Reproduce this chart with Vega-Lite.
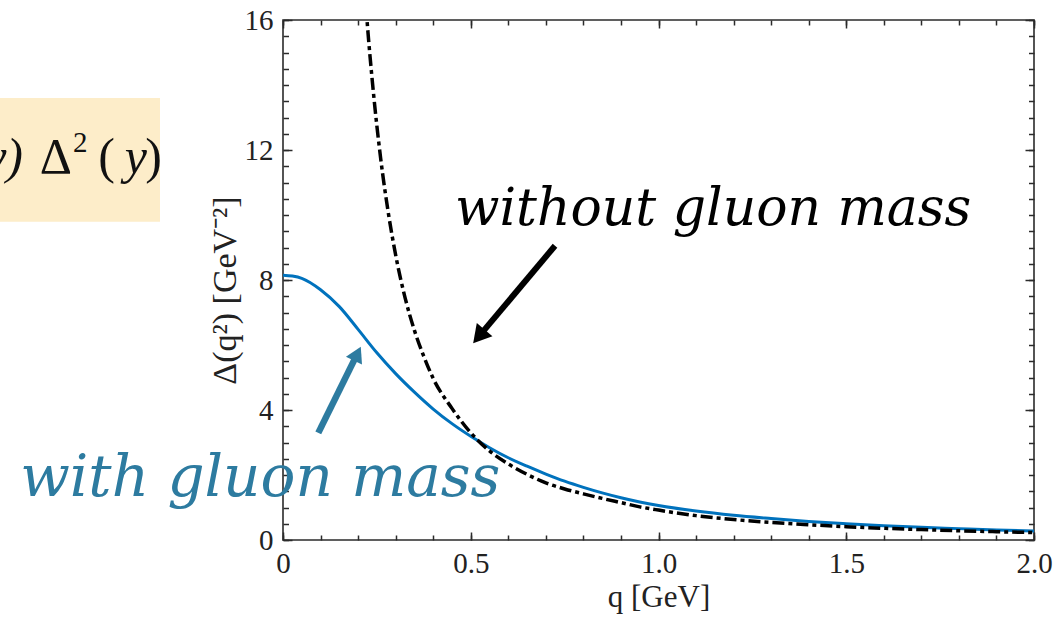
{
  "$schema": "https://vega.github.io/schema/vega-lite/v6.json",
  "width": 751,
  "height": 520,
  "autosize": {"type": "none"},
  "padding": {"left": 283, "top": 20, "right": 30, "bottom": 77},
  "background": "white",
  "config": {
    "view": {"stroke": "#2b2b2b", "strokeWidth": 1.6},
    "axis": {
      "grid": false,
      "domain": false,
      "tickColor": "#2b2b2b",
      "tickWidth": 1.5,
      "labelFont": "Liberation Serif",
      "labelFontSize": 29,
      "labelColor": "#222222",
      "labelFlush": false,
      "labelOverlap": false,
      "titleFont": "Liberation Serif",
      "titleFontSize": 31,
      "titleFontWeight": "normal",
      "titleColor": "#222222"
    }
  },
  "datasets": {
    "massive": [
      {"q": 0.0, "D": 8.15}, {"q": 0.025, "D": 8.12}, {"q": 0.05, "D": 8.05}, {"q": 0.1, "D": 7.7},
      {"q": 0.15, "D": 7.18}, {"q": 0.2, "D": 6.48}, {"q": 0.25, "D": 5.76}, {"q": 0.3, "D": 5.12},
      {"q": 0.35, "D": 4.55}, {"q": 0.4, "D": 4.03}, {"q": 0.45, "D": 3.58}, {"q": 0.5, "D": 3.19},
      {"q": 0.55, "D": 2.84}, {"q": 0.6, "D": 2.53}, {"q": 0.65, "D": 2.27}, {"q": 0.7, "D": 2.03},
      {"q": 0.75, "D": 1.81}, {"q": 0.8, "D": 1.62}, {"q": 0.85, "D": 1.45}, {"q": 0.9, "D": 1.3},
      {"q": 0.95, "D": 1.17}, {"q": 1.0, "D": 1.06}, {"q": 1.1, "D": 0.89}, {"q": 1.2, "D": 0.76},
      {"q": 1.3, "D": 0.66}, {"q": 1.4, "D": 0.57}, {"q": 1.5, "D": 0.5}, {"q": 1.6, "D": 0.44},
      {"q": 1.7, "D": 0.39}, {"q": 1.8, "D": 0.35}, {"q": 1.9, "D": 0.31}, {"q": 2.0, "D": 0.28}
    ],
    "massless": [
      {"q": 0.212, "D": 17.9}, {"q": 0.2237, "D": 16.0}, {"q": 0.24, "D": 13.86}, {"q": 0.26, "D": 11.75},
      {"q": 0.28, "D": 10.1}, {"q": 0.3, "D": 8.77}, {"q": 0.325, "D": 7.46}, {"q": 0.35, "D": 6.45},
      {"q": 0.375, "D": 5.65}, {"q": 0.4, "D": 4.97}, {"q": 0.45, "D": 4.05}, {"q": 0.5, "D": 3.3},
      {"q": 0.55, "D": 2.74}, {"q": 0.6, "D": 2.34}, {"q": 0.65, "D": 2.02}, {"q": 0.7, "D": 1.76},
      {"q": 0.75, "D": 1.57}, {"q": 0.8, "D": 1.42}, {"q": 0.85, "D": 1.28}, {"q": 0.9, "D": 1.15},
      {"q": 0.95, "D": 1.02}, {"q": 1.0, "D": 0.92}, {"q": 1.1, "D": 0.75}, {"q": 1.2, "D": 0.63},
      {"q": 1.3, "D": 0.54}, {"q": 1.4, "D": 0.47}, {"q": 1.5, "D": 0.41}, {"q": 1.6, "D": 0.36},
      {"q": 1.7, "D": 0.32}, {"q": 1.8, "D": 0.285}, {"q": 1.9, "D": 0.255}, {"q": 2.0, "D": 0.23}
    ],
    "formulaUpright": [
      {"x": -0.3222, "label": ")"}, {"x": -0.4474, "label": "("},
      {"x": -0.5619, "label": "Δ"}
    ],
    "formulaItalic": [
      {"x": -0.3622, "label": "y"}, {"x": -0.6924, "label": "y)"}
    ]
  },
  "layer": [
    {
      "data": {"values": [{"x1": -0.76, "x2": -0.3276, "y1": 13.6, "y2": 9.79}]},
      "mark": {"type": "rect", "color": "#FDEDC9", "clip": false},
      "encoding": {
        "x": {"field": "x1", "type": "quantitative", "scale": {"domain": [0, 2], "nice": false}, "axis": null},
        "x2": {"field": "x2"},
        "y": {"field": "y1", "type": "quantitative", "scale": {"domain": [0, 16], "nice": false}, "axis": null},
        "y2": {"field": "y2"}
      }
    },
    {
      "data": {"name": "formulaUpright"},
      "mark": {"type": "text", "font": "Liberation Serif", "fontSize": 50, "align": "right", "baseline": "alphabetic", "color": "#111111", "clip": false},
      "encoding": {
        "x": {"field": "x", "type": "quantitative", "scale": {"domain": [0, 2], "nice": false}, "axis": null},
        "y": {"datum": 11.3, "type": "quantitative", "scale": {"domain": [0, 16], "nice": false}, "axis": null},
        "text": {"field": "label"}
      }
    },
    {
      "data": {"name": "formulaItalic"},
      "mark": {"type": "text", "font": "Liberation Serif", "fontStyle": "italic", "fontSize": 50, "align": "right", "baseline": "alphabetic", "color": "#111111", "clip": false},
      "encoding": {
        "x": {"field": "x", "type": "quantitative", "scale": {"domain": [0, 2], "nice": false}, "axis": null},
        "y": {"datum": 11.3, "type": "quantitative", "scale": {"domain": [0, 16], "nice": false}, "axis": null},
        "text": {"field": "label"}
      }
    },
    {
      "data": {"values": [{"x": -0.5593, "y": 11.94, "label": "2"}]},
      "mark": {"type": "text", "font": "Liberation Serif", "fontSize": 29, "align": "left", "baseline": "alphabetic", "color": "#111111", "clip": false},
      "encoding": {
        "x": {"field": "x", "type": "quantitative", "scale": {"domain": [0, 2], "nice": false}, "axis": null},
        "y": {"field": "y", "type": "quantitative", "scale": {"domain": [0, 16], "nice": false}, "axis": null},
        "text": {"field": "label"}
      }
    },
    {
      "data": {"name": "massive"},
      "mark": {"type": "line", "color": "#0072BD", "strokeWidth": 3, "interpolate": "monotone", "clip": true},
      "encoding": {
        "x": {"field": "q", "type": "quantitative", "scale": {"domain": [0, 2], "nice": false},
          "axis": {"orient": "bottom", "values": [0,0.1,0.2,0.3,0.4,0.5,0.6,0.7,0.8,0.9,1,1.1,1.2,1.3,1.4,1.5,1.6,1.7,1.8,1.9,2], "labels": false, "tickSize": -5, "title": null}},
        "y": {"field": "D", "type": "quantitative", "scale": {"domain": [0, 16], "nice": false},
          "axis": {"orient": "left", "values": [0,0.5,1,1.5,2,2.5,3,3.5,4,4.5,5,5.5,6,6.5,7,7.5,8,8.5,9,9.5,10,10.5,11,11.5,12,12.5,13,13.5,14,14.5,15,15.5,16], "labels": false, "tickSize": -5.5, "title": null}}
      }
    },
    {
      "data": {"name": "massless"},
      "mark": {"type": "line", "color": "#000000", "strokeWidth": 3.5, "strokeDash": [12, 4, 4, 4], "interpolate": "monotone", "clip": true},
      "encoding": {
        "x": {"field": "q", "type": "quantitative", "scale": {"domain": [0, 2], "nice": false},
          "axis": {"orient": "bottom", "values": [0, 0.5, 1, 1.5, 2], "labelExpr": "datum.value == 0 ? '0' : format(datum.value, '.1f')", "tickSize": -8, "labelPadding": 17, "title": "q  [GeV]", "titlePadding": 4}},
        "y": {"field": "D", "type": "quantitative", "scale": {"domain": [0, 16], "nice": false},
          "axis": {"orient": "left", "values": [0, 4, 8, 12, 16], "tickSize": -9, "labelPadding": 19, "title": "Δ(q²)   [GeV⁻²]", "titleFontSize": 34, "titlePadding": 2, "titleY": 270}}
      }
    },
    {
      "data": {"values": [{"x1": 0.7244, "y1": 9.053, "x2": 0.5217, "y2": 6.265}]},
      "mark": {"type": "rule", "color": "#000000", "strokeWidth": 6, "clip": false},
      "encoding": {
        "x": {"field": "x1", "type": "quantitative", "scale": {"domain": [0, 2], "nice": false},
          "axis": {"orient": "top", "values": [0,0.1,0.2,0.3,0.4,0.5,0.6,0.7,0.8,0.9,1,1.1,1.2,1.3,1.4,1.5,1.6,1.7,1.8,1.9,2], "labels": false, "tickSize": -5, "title": null}},
        "x2": {"field": "x2"},
        "y": {"field": "y1", "type": "quantitative", "scale": {"domain": [0, 16], "nice": false},
          "axis": {"orient": "right", "values": [0,0.5,1,1.5,2,2.5,3,3.5,4,4.5,5,5.5,6,6.5,7,7.5,8,8.5,9,9.5,10,10.5,11,11.5,12,12.5,13,13.5,14,14.5,15,15.5,16], "labels": false, "tickSize": -5.5, "title": null}},
        "y2": {"field": "y2"}
      }
    },
    {
      "data": {"values": [{"x": 0.5217, "y": 6.265}]},
      "mark": {"type": "point", "shape": "triangle-up", "filled": true, "color": "#000000", "size": 420, "angle": 220.2, "opacity": 1, "clip": false},
      "encoding": {
        "x": {"field": "x", "type": "quantitative", "scale": {"domain": [0, 2], "nice": false}, "axis": null},
        "y": {"field": "y", "type": "quantitative", "scale": {"domain": [0, 16], "nice": false}, "axis": null}
      }
    },
    {
      "data": {"values": [{"x1": 0.094, "y1": 3.295, "x2": 0.1981, "y2": 5.733}]},
      "mark": {"type": "rule", "color": "#2D7BA0", "strokeWidth": 6.5, "clip": false},
      "encoding": {
        "x": {"field": "x1", "type": "quantitative", "scale": {"domain": [0, 2], "nice": false},
          "axis": {"orient": "top", "values": [0, 0.5, 1, 1.5, 2], "labels": false, "tickSize": -8, "title": null}},
        "x2": {"field": "x2"},
        "y": {"field": "y1", "type": "quantitative", "scale": {"domain": [0, 16], "nice": false},
          "axis": {"orient": "right", "values": [0, 4, 8, 12, 16], "labels": false, "tickSize": -9, "title": null}},
        "y2": {"field": "y2"}
      }
    },
    {
      "data": {"values": [{"x": 0.1981, "y": 5.733}]},
      "mark": {"type": "point", "shape": "triangle-up", "filled": true, "color": "#2D7BA0", "size": 320, "angle": 26.2, "opacity": 1, "clip": false},
      "encoding": {
        "x": {"field": "x", "type": "quantitative", "scale": {"domain": [0, 2], "nice": false}, "axis": null},
        "y": {"field": "y", "type": "quantitative", "scale": {"domain": [0, 16], "nice": false}, "axis": null}
      }
    },
    {
      "data": {"values": [{"x": 0.458, "y": 9.7, "label": "without gluon mass"}]},
      "mark": {"type": "text", "font": "DejaVu Serif", "fontStyle": "italic", "fontSize": 52, "align": "left", "baseline": "alphabetic", "color": "#000000", "clip": false},
      "encoding": {
        "x": {"field": "x", "type": "quantitative", "scale": {"domain": [0, 2], "nice": false}, "axis": null},
        "y": {"field": "y", "type": "quantitative", "scale": {"domain": [0, 16], "nice": false}, "axis": null},
        "text": {"field": "label"}
      }
    },
    {
      "data": {"values": [{"x": -0.7, "y": 1.34, "label": "with gluon mass"}]},
      "mark": {"type": "text", "font": "DejaVu Serif", "fontStyle": "italic", "fontSize": 58, "align": "left", "baseline": "alphabetic", "color": "#2D7BA0", "clip": false},
      "encoding": {
        "x": {"field": "x", "type": "quantitative", "scale": {"domain": [0, 2], "nice": false}, "axis": null},
        "y": {"field": "y", "type": "quantitative", "scale": {"domain": [0, 16], "nice": false}, "axis": null},
        "text": {"field": "label"}
      }
    }
  ],
  "resolve": {"axis": {"x": "independent", "y": "independent"}}
}
